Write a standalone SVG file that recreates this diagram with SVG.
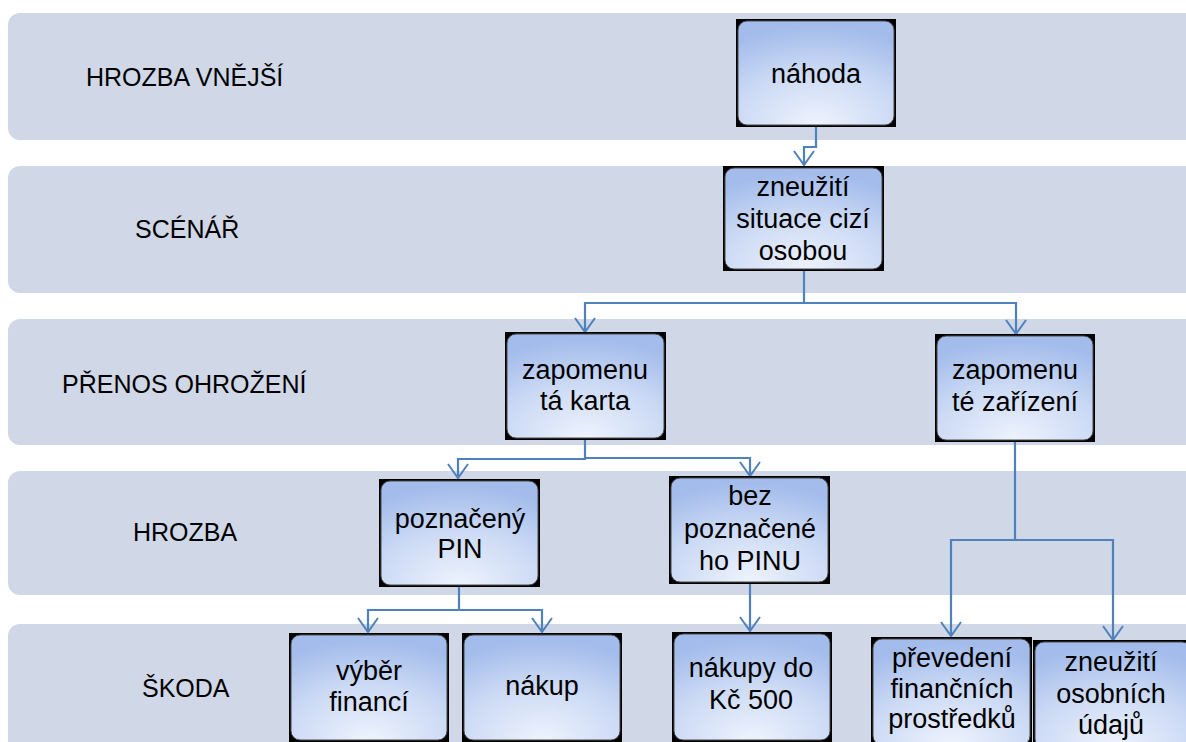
<svg xmlns="http://www.w3.org/2000/svg" width="1186" height="742" viewBox="0 0 1186 742">
<defs>
<radialGradient id="ng" cx="50%" cy="100%" r="95%" fx="50%" fy="100%">
<stop offset="0" stop-color="#EEF3FD"/>
<stop offset="0.55" stop-color="#CCDAF5"/>
<stop offset="1" stop-color="#A3BCEB"/>
</radialGradient>
<marker id="ah" viewBox="-1 -11 17 22" markerWidth="17" markerHeight="22" refX="14" refY="0" orient="auto" markerUnits="userSpaceOnUse">
<path d="M0,-10 L14,0 L0,10" fill="none" stroke="#4F81BD" stroke-width="2"/>
</marker>
<style>
.lane{fill:#D0D7E6;}
.lbl{font-family:"Liberation Sans",Arial,sans-serif;font-size:25px;fill:#000;}
.nt{font-family:"Liberation Sans",Arial,sans-serif;font-size:27px;fill:#000;text-anchor:middle;}
.nb{fill:#000;}
.nf{fill:url(#ng);stroke:#4a4a4a;stroke-width:1;}
.cn{fill:none;stroke:#4F81BD;stroke-width:2.2;}
</style>
</defs>
<rect width="1186" height="742" fill="#fff"/>
<g id="lanes">
<rect class="lane" x="8" y="13" width="1190" height="127" rx="12"/>
<rect class="lane" x="8" y="166" width="1190" height="127" rx="12"/>
<rect class="lane" x="8" y="319" width="1190" height="126" rx="12"/>
<rect class="lane" x="8" y="471" width="1190" height="124" rx="12"/>
<rect class="lane" x="8" y="624" width="1190" height="140" rx="12"/>
<text class="lbl" x="86" y="86">HROZBA VNĚJŠÍ</text>
<text class="lbl" x="135" y="238">SCÉNÁŘ</text>
<text class="lbl" x="62" y="393">PŘENOS OHROŽENÍ</text>
<text class="lbl" x="133" y="541">HROZBA</text>
<text class="lbl" x="142" y="697">ŠKODA</text>
</g>
<g id="connectors">
<path class="cn" d="M816 127 V147 H804 V165" marker-end="url(#ah)"/>
<path class="cn" d="M804 271 V303 H585 V332" marker-end="url(#ah)"/>
<path class="cn" d="M804 303 H1016 V334" marker-end="url(#ah)"/>
<path class="cn" d="M585 440 V459 H458 V478" marker-end="url(#ah)"/>
<path class="cn" d="M585 458 H750 V476" marker-end="url(#ah)"/>
<path class="cn" d="M459 587 V610 H368 V632" marker-end="url(#ah)"/>
<path class="cn" d="M459 610 H542 V632" marker-end="url(#ah)"/>
<path class="cn" d="M750 584 V631" marker-end="url(#ah)"/>
<path class="cn" d="M1015 441 V540 H951 V636" marker-end="url(#ah)"/>
<path class="cn" d="M1015 540 H1113 V640" marker-end="url(#ah)"/>
</g>
<g id="n-nahoda">
<rect class="nb" x="736" y="19" width="160" height="108"/>
<rect class="nf" x="738" y="21" width="156" height="104" rx="9"/>
<text class="nt" x="816" y="83">náhoda</text>
</g>
<g id="n-zneuziti-situace">
<rect class="nb" x="723" y="166" width="161" height="105"/>
<rect class="nf" x="725" y="168" width="157" height="101" rx="9"/>
<text class="nt" x="803" y="196">zneužití</text>
<text class="nt" x="803" y="228">situace cizí</text>
<text class="nt" x="803" y="260">osobou</text>
</g>
<g id="n-karta">
<rect class="nb" x="505" y="332" width="161" height="108"/>
<rect class="nf" x="507" y="334" width="157" height="104" rx="9"/>
<text class="nt" x="585" y="379">zapomenu</text>
<text class="nt" x="585" y="410">tá karta</text>
</g>
<g id="n-zarizeni">
<rect class="nb" x="935" y="334" width="160" height="108"/>
<rect class="nf" x="937" y="336" width="156" height="104" rx="9"/>
<text class="nt" x="1015" y="379">zapomenu</text>
<text class="nt" x="1015" y="411">té zařízení</text>
</g>
<g id="n-poznaceny">
<rect class="nb" x="379" y="479" width="161" height="108"/>
<rect class="nf" x="381" y="481" width="157" height="104" rx="9"/>
<text class="nt" x="460" y="528">poznačený</text>
<text class="nt" x="460" y="558">PIN</text>
</g>
<g id="n-bez">
<rect class="nb" x="669" y="476" width="161" height="108"/>
<rect class="nf" x="671" y="478" width="157" height="104" rx="9"/>
<text class="nt" x="750" y="505">bez</text>
<text class="nt" x="750" y="538">poznačené</text>
<text class="nt" x="750" y="570">ho PINU</text>
</g>
<g id="n-vyber">
<rect class="nb" x="289" y="633" width="160" height="109"/>
<rect class="nf" x="291" y="635" width="156" height="105" rx="9"/>
<text class="nt" x="369" y="680">výběr</text>
<text class="nt" x="369" y="711">financí</text>
</g>
<g id="n-nakup">
<rect class="nb" x="462" y="633" width="160" height="109"/>
<rect class="nf" x="464" y="635" width="156" height="105" rx="9"/>
<text class="nt" x="542" y="695">nákup</text>
</g>
<g id="n-nakupy">
<rect class="nb" x="672" y="632" width="160" height="110"/>
<rect class="nf" x="674" y="634" width="156" height="106" rx="9"/>
<text class="nt" x="751" y="677">nákupy do</text>
<text class="nt" x="751" y="709">Kč 500</text>
</g>
<g id="n-prevedeni">
<rect class="nb" x="871" y="637" width="161" height="110"/>
<rect class="nf" x="873" y="639" width="157" height="106" rx="9"/>
<text class="nt" x="952" y="667">převedení</text>
<text class="nt" x="952" y="698">finančních</text>
<text class="nt" x="952" y="728">prostředků</text>
</g>
<g id="n-zneuziti-udaju">
<rect class="nb" x="1033" y="640" width="160" height="110"/>
<rect class="nf" x="1035" y="642" width="156" height="106" rx="9"/>
<text class="nt" x="1111" y="671">zneužití</text>
<text class="nt" x="1111" y="703">osobních</text>
<text class="nt" x="1111" y="734">údajů</text>
</g>
</svg>
